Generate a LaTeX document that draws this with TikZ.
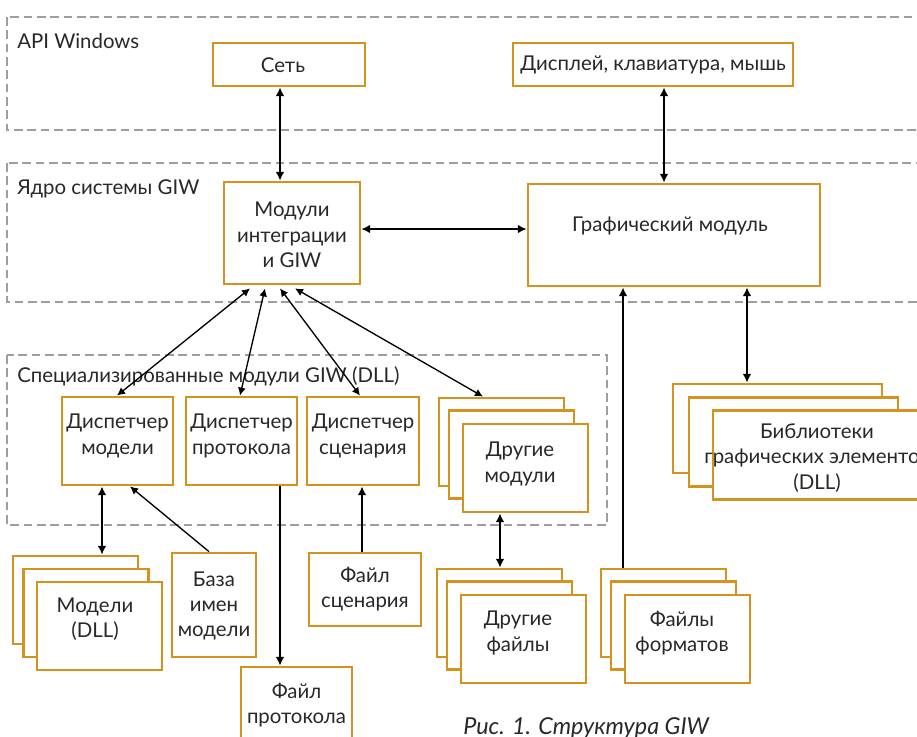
\documentclass[tikz,border=0pt]{standalone}
\usepackage{fontspec}
\setmainfont{Lato}
\usetikzlibrary{arrows.meta,calc}
\definecolor{ob}{RGB}{212,146,30}
\definecolor{dg}{RGB}{158,158,158}
\definecolor{tx}{RGB}{40,40,40}
\begin{document}
\begin{tikzpicture}[x=0.75pt,y=-0.75pt,
  box/.style={draw=ob,line width=2.1pt,fill=white,inner sep=0pt},
  bx/.style 2 args={box,minimum width={#1*0.75pt},minimum height={#2*0.75pt}},
  txt/.style={text=tx,align=center,font=\fontsize{15.3}{19}\selectfont,inner sep=0pt},
  grp/.style={draw=dg,line width=2pt,dash pattern=on 6.5pt off 3.5pt},
  glabel/.style={txt,anchor=base west},
  dbl/.style={line width=1.5pt,{Latex[length=6.5pt,width=6.5pt]}-{Latex[length=6.5pt,width=6.5pt]}},
  sgl/.style={line width=1.5pt,-{Latex[length=6.5pt,width=6.5pt]}},
  tdbl/.style={line width=1pt,{Latex[length=6pt,width=6pt]}-{Latex[length=6pt,width=6pt]}},
  tsgl/.style={line width=1pt,-{Latex[length=6pt,width=6pt]}}]
\useasboundingbox (0,0) rectangle (917,736);
\clip (0,0) rectangle (917,736);
\fill[white] (0,0) rectangle (917,736);

% groups
\draw[grp] (7,17) rectangle (960,130);
\draw[grp] (7,163) rectangle (960,302);
\draw[grp] (7,355) rectangle (607,525);
\node[glabel] (gapi) at (17,48) {API Windows};
\node[glabel] (gcore) at (17,194) {Ядро системы GIW};
\node[glabel] (gspec) at (17,382) {Специализированные модули GIW (DLL)};

% top level
\node[bx={152}{43}] (set) at (289,64.5) {};
\node[txt] (sett) at (283,65) {Сеть};
\node[bx={280}{43}] (disp) at (653,64.5) {};
\node[txt] (dispt) at (653,65) {Дисплей, клавиатура, мышь};

% core
\node[bx={136}{102}] (mod) at (292,233) {};
\node[txt] (modt) at (292,235) {Модули\\интеграции\\и GIW};
\node[bx={292}{102}] (graf) at (674,235) {};
\node[txt] (graft) at (670,226) {Графический модуль};

% dispatchers
\node[bx={111}{88}] (dm) at (117.5,441) {};
\node[txt] (dmt) at (117.5,436) {Диспетчер\\модели};
\node[bx={111}{88}] (dp) at (241.5,441) {};
\node[txt] (dpt) at (241.5,436) {Диспетчер\\протокола};
\node[bx={112}{88}] (ds) at (363,441) {};
\node[txt] (dst) at (363,436) {Диспетчер\\сценария};

% other modules stack
\node[bx={125}{88}] (omB) at (501.5,442) {};
\node[bx={125}{88}] (omM) at (511.5,454.5) {};
\node[bx={125}{88}] (omF) at (525.5,468) {};
\node[txt] (omt) at (520,464) {Другие\\модули};

% libraries stack
\node[bx={209}{89}] (libB) at (777.5,428.5) {};
\node[bx={209}{89}] (libM) at (793.5,442) {};
\node[bx={209}{89}] (libF) at (817.5,455) {};
\node[txt] (libt) at (817,458) {Библиотеки\\графических элементов\\(DLL)};

% models stack
\node[bx={125}{88}] (mdB) at (75.5,600) {};
\node[bx={125}{88}] (mdM) at (86,613) {};
\node[bx={125}{88}] (mdF) at (99.5,626) {};
\node[txt] (mdt) at (95,619) {Модели\\(DLL)};

% names base
\node[bx={84}{104}] (baza) at (214,605) {};
\node[txt] (bazat) at (214,606) {База\\имен\\модели};

% scenario file
\node[bx={112}{73}] (fs) at (365,589.5) {};
\node[txt] (fst) at (365,589) {Файл\\сценария};

% protocol file
\node[bx={111}{78}] (fp) at (296.5,706) {};
\node[txt] (fpt) at (296.5,705) {Файл\\протокола};

% other files stack
\node[bx={125}{88}] (ofB) at (499.5,613) {};
\node[bx={125}{88}] (ofM) at (509.5,625.5) {};
\node[bx={125}{88}] (ofF) at (523.5,639) {};
\node[txt] (oft) at (518,633) {Другие\\файлы};

% format files stack
\node[bx={125}{88}] (fmB) at (663.5,613) {};
\node[bx={125}{88}] (fmM) at (673.5,625.5) {};
\node[bx={125}{88}] (fmF) at (687.5,639) {};
\node[txt] (fmt) at (682,633) {Файлы\\форматов};

% caption
\node[txt,anchor=base west,font=\fontsize{17.5}{20}\selectfont\itshape] (cap) at (463,734) {Рис. 1. Структура GIW};

% connectors
\draw[dbl] ($(set.south)+(-9,0)$) -- ($(mod.north)+(-12,0)$);
\draw[dbl] ($(disp.south)+(11,0)$) -- ($(graf.north)+(-10,0)$);
\draw[dbl] ($(mod.east)+(0,-4)$) -- ($(graf.west)+(0,-6)$);
\draw[tdbl] ($(mod.south)+(-42,3)$) -- ($(dm.north)+(-0.5,0)$);
\draw[tdbl] ($(mod.south)+(-27,3)$) -- ($(dp.north)+(-1.5,0)$);
\draw[tdbl] ($(mod.south)+(-12,3)$) -- ($(ds.north)+(-3,0)$);
\draw[tdbl] ($(mod.south)+(3,3)$) -- ($(omB.north)+(-18.5,0)$);
\draw[dbl] ($(graf.south)+(73,0)$) -- ($(libB.north)+(-30.5,0)$);
\draw[sgl] ($(fmB.north)+(-40.5,0)$) -- ($(graf.south)+(-51,0)$);
\draw[dbl] ($(dm.south)+(-15.5,0)$) -- ($(mdB.north)+(26.5,0)$);
\draw[tsgl] ($(baza.north)+(-5,0)$) -- ($(dm.south)+(12.5,0)$);
\draw[sgl] ($(dp.south)+(38.5,0)$) -- ($(fp.north)+(-16.5,0)$);
\draw[sgl] ($(fs.north)+(-3,0)$) -- ($(ds.south)+(-1,0)$);
\draw[dbl] ($(omF.south)+(-25.5,0)$) -- ($(ofB.north)+(0.5,0)$);
\end{tikzpicture}
\end{document}
